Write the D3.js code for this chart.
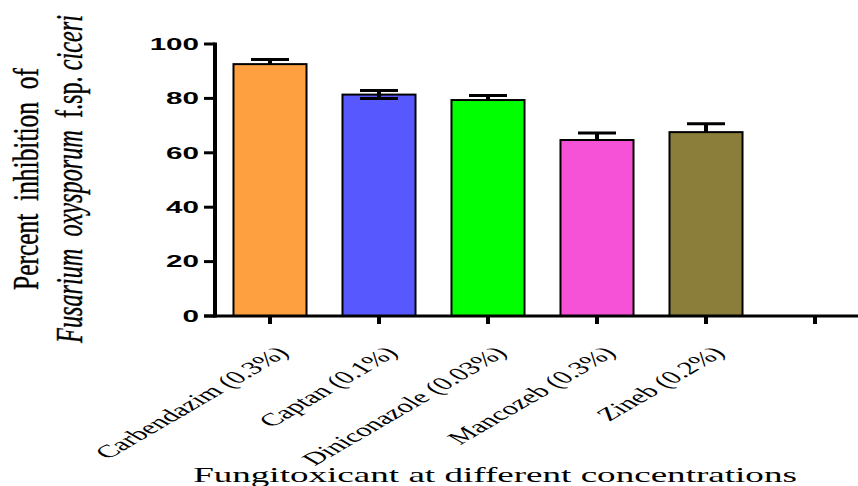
<!DOCTYPE html>
<html><head><meta charset="utf-8">
<script src="https://cdn.jsdelivr.net/npm/d3@7"></script>
<style>body{margin:0;background:#fff}svg{display:block}</style>
</head><body>
<svg id="c" width="858" height="486"></svg>
<script>
const categories = ["Carbendazim (0.3%)", "Captan (0.1%)", "Diniconazole (0.03%)", "Mancozeb (0.3%)", "Zineb (0.2%)", ""];
const values = [92.6, 81.4, 79.4, 64.7, 67.6];
const errUp = [1.7, 1.5, 1.7, 2.6, 3.1];
const errDown = [0, 1.4, 0, 0, 0];
const colors = ["#FFA040", "#5858FF", "#00FF00", "#F552D8", "#8B7D3A"];
const yTicks = [0, 20, 40, 60, 80, 100];
const yTitle1 = "Percent  inhibition  of";
const yTitle2 = [["Fusarium  oxysporum", "italic"], ["  f.sp. ", "normal"], ["ciceri", "italic"]];
const xTitle = "Fungitoxicant at different concentrations";

const svg = d3.select("#c");
const serif = "'Liberation Serif','Times New Roman',serif";
const sans = "'Liberation Sans',Arial,sans-serif";
const SX = 1.85;
const SXL = 1.72;

const x = d3.scaleBand().domain(categories).range([215.5, 869.5]).paddingInner(0.33).paddingOuter(0.165);
const y = d3.scaleLinear().domain([0, 100]).range([316, 44]);
const data = values.map((v, i) => ({c: categories[i], v, eu: errUp[i], ed: errDown[i], col: colors[i]}));

// bars
svg.append("g").selectAll("rect").data(data).join("rect")
  .attr("x", d => x(d.c)).attr("width", x.bandwidth())
  .attr("y", d => y(d.v)).attr("height", d => y(0) - y(d.v))
  .attr("fill", d => d.col).attr("stroke", "#000").attr("stroke-width", 2);

// error bars
const eb = svg.append("g").attr("stroke", "#000");
data.forEach(d => {
  const cx = x(d.c) + x.bandwidth() / 2;
  eb.append("line").attr("x1", cx).attr("x2", cx).attr("y1", y(d.v - d.ed)).attr("y2", y(d.v + d.eu)).attr("stroke-width", 4);
  eb.append("line").attr("x1", cx - 19).attr("x2", cx + 19).attr("y1", y(d.v + d.eu)).attr("y2", y(d.v + d.eu)).attr("stroke-width", 3);
  if (d.ed > 0) eb.append("line").attr("x1", cx - 19).attr("x2", cx + 19).attr("y1", y(d.v - d.ed)).attr("y2", y(d.v - d.ed)).attr("stroke-width", 3);
});

// y axis
const ax = svg.append("g").attr("stroke", "#000");
ax.append("line").attr("x1", 215).attr("x2", 215).attr("y1", y(100) - 1.5).attr("y2", y(0) + 1.5).attr("stroke-width", 4);
yTicks.forEach(t => {
  ax.append("line").attr("x1", 204).attr("x2", 215).attr("y1", y(t)).attr("y2", y(t)).attr("stroke-width", 3);
  svg.append("text").attr("transform", `translate(199,${y(t)}) scale(${SX},1)`)
    .attr("text-anchor", "end").attr("dy", "0.36em")
    .style("font-family", sans).style("font-weight", "bold").style("font-size", "16px").text(t);
});

// x axis
ax.append("line").attr("x1", 204).attr("x2", 858).attr("y1", y(0)).attr("y2", y(0)).attr("stroke-width", 3);
categories.forEach(c => {
  const cx = x(c) + x.bandwidth() / 2;
  ax.append("line").attr("x1", cx).attr("x2", cx).attr("y1", y(0)).attr("y2", y(0) + 8).attr("stroke-width", 4);
  if (c) {
    svg.append("text").attr("transform", `translate(${cx + 20},354) scale(${SXL},1) rotate(-45)`)
      .attr("text-anchor", "end")
      .style("font-family", serif).style("font-size", "18px").text(c);
  }
});

function fit(sel, len) {
  const L = sel.node().getComputedTextLength();
  return len / L;
}

// x title
const xt = svg.append("text").attr("text-anchor", "middle")
  .style("font-family", serif).style("font-size", "22px").text(xTitle);
const sxt = fit(xt, 604);
xt.attr("transform", `translate(495,482) scale(${sxt},1)`);

// y title line 1
const yt1 = svg.append("text").attr("text-anchor", "middle")
  .style("font-family", serif).style("font-size", "36px").style("white-space", "pre")
  .attr("stroke", "#000").attr("stroke-width", 0.4).text(yTitle1);
const s1 = fit(yt1, 222);
yt1.attr("transform", `translate(38,179) rotate(-90) scale(${s1},1)`);

// y title line 2
const yt2 = svg.append("text").attr("text-anchor", "middle")
  .style("font-family", serif).style("font-size", "37px").style("white-space", "pre")
  .attr("stroke", "#000").attr("stroke-width", 0.4);
yTitle2.forEach(([t, st]) => yt2.append("tspan").style("font-style", st).text(t));
const s2 = fit(yt2, 328);
yt2.attr("transform", `translate(82,179) rotate(-90) scale(${s2},1)`);
</script>
</body></html>
